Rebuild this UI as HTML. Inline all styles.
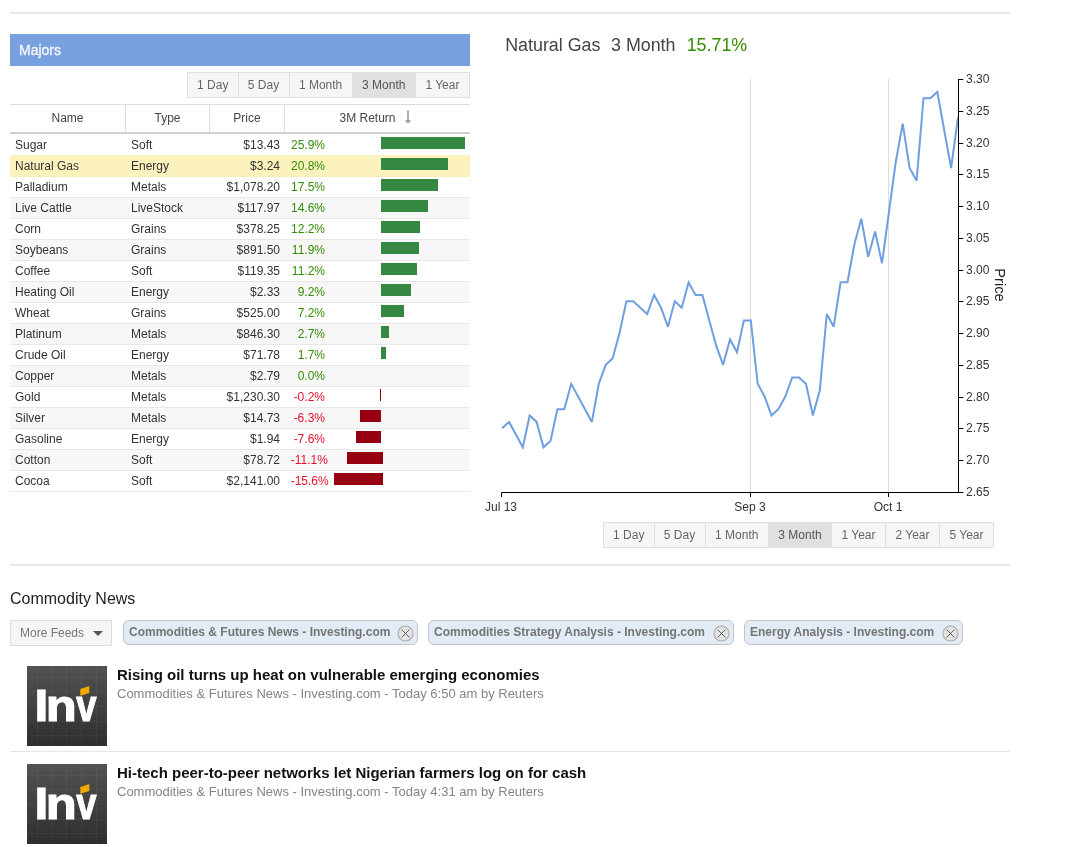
<!DOCTYPE html>
<html><head><meta charset="utf-8"><title>Commodities</title>
<style>
*{box-sizing:border-box}
html,body{margin:0;padding:0;background:#fff}
body{width:1078px;height:847px;position:relative;overflow:hidden;font-family:"Liberation Sans",Arial,sans-serif;font-size:12px;color:#333}
.hr{position:absolute;left:10px;width:1000px;height:2px;background:#e4e7eb}
.majors{position:absolute;left:10px;top:34px;width:460px;height:32px;background:#78a1e0;color:#fff;font-size:14px;line-height:32px;padding-left:9px;-webkit-text-stroke:0.35px #f4f6fb;color:#f4f6fb}
.btns{position:absolute;display:flex;height:26px;border:1px solid #e0e0e0;background:#f6f6f6}
.btns span{display:block;height:24px;line-height:24px;font-size:12px;color:#666;text-align:center;border-left:1px solid #e0e0e0}
.btns span:first-child{border-left:0}
.btns span.on{background:#e0e0e0;color:#555}
.thead{position:absolute;left:10px;top:104px;width:460px;height:30px;border-top:1px solid #ddd;border-bottom:2px solid #d0d0d0;display:flex}
.thead span{display:block;height:27px;line-height:27px;text-align:center;font-size:12px;color:#444;border-left:1px solid #ddd}
.thead span:first-child{border-left:0}
.tbody{position:absolute;left:10px;top:134px;width:460px}
.tr{position:relative;height:21px;line-height:20px;border-top:1px solid #e8e8e8;font-size:12px;color:#333;white-space:nowrap}
.tr:first-child{border-top-color:#fff}
.tr.alt{background:#f7f7f7}
.tr.sel{background:#fcf2bd;border-top-color:#fcf2bd}
.tr.sel + .tr{border-top-color:#f7edb9}
.tbody{border-bottom:1px solid #e8e8e8}
.tr span{position:absolute;top:0}
.c1{left:5px}.c2{left:121px}.c3{right:190px;text-align:right}.c4{left:280.7px;width:34.3px;text-align:right}
.pos{color:#358c05}.neg{color:#e8102e}
.bar{position:absolute;top:2px;height:12px;display:block}
.bar.g{background:#348842}.bar.r{background:#960010}
.ctitle{position:absolute;top:35.2px;font-size:17.85px;line-height:20px;color:#444;white-space:pre}
.ctitle b{font-weight:normal;color:#358c05}
svg text.ax{font-family:"Liberation Sans",Arial,sans-serif;font-size:12px;fill:#333}
svg text.ax2{font-family:"Liberation Sans",Arial,sans-serif;font-size:12px;fill:#333}
.h2{position:absolute;left:10px;top:589px;font-size:16px;line-height:20px;color:#222}
.more{position:absolute;left:10px;top:620px;width:102px;height:26px;border:1px solid #ddd;background:#f5f5f5;color:#777;font-size:12px;line-height:24px;padding-left:9px}
.more i{position:absolute;left:82px;top:10px;width:0;height:0;border-left:5px solid transparent;border-right:5px solid transparent;border-top:5px solid #555}
.tag{position:absolute;top:620px;height:25px;border:1px solid #c3c3c3;border-radius:6px;background:#e3ebf6;color:#757575;font-weight:bold;font-size:12px;line-height:22px;padding-left:5px;white-space:nowrap}
.tag svg{position:absolute;right:2.6px;top:3.7px}
.news{position:absolute;left:10px;width:1000px}
.news .logo{position:absolute;left:17px;top:0}
.news .t{position:absolute;left:107px;top:0px;font-size:15px;font-weight:bold;color:#111;line-height:18px;white-space:nowrap}
.news .s{position:absolute;left:107px;top:20px;font-size:13px;color:#848484;line-height:16px;white-space:nowrap}
.sep{position:absolute;left:10px;top:751px;width:1000px;height:1px;background:#e6e6e6}
</style></head><body>
<div class="hr" style="top:12px"></div>
<div class="majors">Majors</div>
<div class="btns" style="left:187px;top:72px;width:283px">
<span style="width:49.5px">1 Day</span><span style="width:51px">5 Day</span><span style="width:63.2px">1 Month</span><span class="on" style="width:63.2px">3 Month</span><span style="flex:1">1 Year</span>
</div>
<div class="thead"><span style="width:115px">Name</span><span style="width:84px">Type</span><span style="width:75px">Price</span><span style="width:186px;padding-right:2px">3M Return<svg width="8" height="14" viewBox="0 0 8 14" style="vertical-align:-2px;margin-left:8px;margin-right:2px"><path d="M4 0.4V11" fill="none" stroke="#999" stroke-width="1.6"/><path d="M0.9 10.2H7.1L4 13.4Z" fill="#999"/></svg></span></div>
<div class="tbody">
<div class="tr "><span class="c1">Sugar</span><span class="c2">Soft</span><span class="c3">$13.43</span><span class="c4 pos">25.9%</span><i class="bar g" style="left:371px;width:84px"></i></div>
<div class="tr sel"><span class="c1">Natural Gas</span><span class="c2">Energy</span><span class="c3">$3.24</span><span class="c4 pos">20.8%</span><i class="bar g" style="left:371px;width:67px"></i></div>
<div class="tr "><span class="c1">Palladium</span><span class="c2">Metals</span><span class="c3">$1,078.20</span><span class="c4 pos">17.5%</span><i class="bar g" style="left:371px;width:57px"></i></div>
<div class="tr alt"><span class="c1">Live Cattle</span><span class="c2">LiveStock</span><span class="c3">$117.97</span><span class="c4 pos">14.6%</span><i class="bar g" style="left:371px;width:47px"></i></div>
<div class="tr "><span class="c1">Corn</span><span class="c2">Grains</span><span class="c3">$378.25</span><span class="c4 pos">12.2%</span><i class="bar g" style="left:371px;width:39px"></i></div>
<div class="tr alt"><span class="c1">Soybeans</span><span class="c2">Grains</span><span class="c3">$891.50</span><span class="c4 pos">11.9%</span><i class="bar g" style="left:371px;width:38px"></i></div>
<div class="tr "><span class="c1">Coffee</span><span class="c2">Soft</span><span class="c3">$119.35</span><span class="c4 pos">11.2%</span><i class="bar g" style="left:371px;width:36px"></i></div>
<div class="tr alt"><span class="c1">Heating Oil</span><span class="c2">Energy</span><span class="c3">$2.33</span><span class="c4 pos">9.2%</span><i class="bar g" style="left:371px;width:30px"></i></div>
<div class="tr "><span class="c1">Wheat</span><span class="c2">Grains</span><span class="c3">$525.00</span><span class="c4 pos">7.2%</span><i class="bar g" style="left:371px;width:23px"></i></div>
<div class="tr alt"><span class="c1">Platinum</span><span class="c2">Metals</span><span class="c3">$846.30</span><span class="c4 pos">2.7%</span><i class="bar g" style="left:371px;width:8px"></i></div>
<div class="tr "><span class="c1">Crude Oil</span><span class="c2">Energy</span><span class="c3">$71.78</span><span class="c4 pos">1.7%</span><i class="bar g" style="left:371px;width:5px"></i></div>
<div class="tr alt"><span class="c1">Copper</span><span class="c2">Metals</span><span class="c3">$2.79</span><span class="c4 pos">0.0%</span></div>
<div class="tr "><span class="c1">Gold</span><span class="c2">Metals</span><span class="c3">$1,230.30</span><span class="c4 neg">-0.2%</span><i class="bar r" style="left:370px;width:1px"></i></div>
<div class="tr alt"><span class="c1">Silver</span><span class="c2">Metals</span><span class="c3">$14.73</span><span class="c4 neg">-6.3%</span><i class="bar r" style="left:350px;width:21px"></i></div>
<div class="tr "><span class="c1">Gasoline</span><span class="c2">Energy</span><span class="c3">$1.94</span><span class="c4 neg">-7.6%</span><i class="bar r" style="left:346px;width:25px"></i></div>
<div class="tr alt"><span class="c1">Cotton</span><span class="c2">Soft</span><span class="c3">$78.72</span><span class="c4 neg">-11.1%</span><i class="bar r" style="left:337px;width:36px"></i></div>
<div class="tr "><span class="c1">Cocoa</span><span class="c2">Soft</span><span class="c3">$2,141.00</span><span class="c4 neg">-15.6%</span><i class="bar r" style="left:324px;width:49px"></i></div>
</div>

<div class="ctitle" style="left:505.2px">Natural Gas</div><div class="ctitle" style="left:611px">3 Month</div><div class="ctitle" style="left:686.7px"><b>15.71%</b></div>
<svg width="1078" height="847" style="position:absolute;left:0;top:0;pointer-events:none">
<line x1="750.5" x2="750.5" y1="79" y2="492" stroke="#dcdcdc" stroke-width="1"/>
<line x1="888.5" x2="888.5" y1="79" y2="492" stroke="#dcdcdc" stroke-width="1"/>
<polyline fill="none" stroke="#6f9fe0" stroke-width="2" stroke-linejoin="miter" stroke-miterlimit="3" points="502.1,428.2 509.0,421.9 515.9,434.6 522.8,447.3 529.7,415.5 536.6,421.9 543.5,447.3 550.5,440.9 557.4,409.2 564.3,409.2 571.2,383.8 578.1,396.5 585.0,409.2 591.9,421.9 598.8,383.8 605.7,364.8 612.6,358.4 619.5,333.0 626.4,301.3 633.3,301.3 640.3,307.7 647.2,314.0 654.1,295.0 661.0,307.7 667.9,326.7 674.8,301.3 681.7,307.7 688.6,282.3 695.5,295.0 702.4,295.0 709.3,320.4 716.2,345.7 723.1,364.8 730.0,339.4 737.0,352.1 743.9,320.4 750.8,320.4 757.7,383.8 764.6,396.5 771.5,415.5 778.4,409.2 785.3,396.5 792.2,377.5 799.1,377.5 806.0,383.8 812.9,415.5 819.8,390.2 826.8,314.0 833.7,326.7 840.6,282.3 847.5,282.3 854.4,244.2 861.3,218.8 868.2,256.9 875.1,231.5 882.0,263.2 888.9,212.5 895.8,161.7 902.7,123.6 909.6,168.0 916.6,180.7 923.5,98.2 930.4,98.2 937.3,91.9 944.2,130.0 951.1,168.0 958.0,117.3"/>
<path d="M501.5,497V492.5H958.5" fill="none" stroke="#000" stroke-width="1"/>
<line x1="750.5" x2="750.5" y1="492" y2="497" stroke="#000"/>
<line x1="888.5" x2="888.5" y1="492" y2="497" stroke="#000"/>
<line x1="958.5" x2="958.5" y1="79" y2="493" stroke="#000" stroke-width="1"/>
<line x1="958.5" x2="963.3" y1="492.5" y2="492.5" stroke="#000" stroke-width="1"/><text x="966" y="496.1" class="ax">2.65</text>
<line x1="958.5" x2="963.3" y1="460.5" y2="460.5" stroke="#000" stroke-width="1"/><text x="966" y="464.1" class="ax">2.70</text>
<line x1="958.5" x2="963.3" y1="428.5" y2="428.5" stroke="#000" stroke-width="1"/><text x="966" y="432.1" class="ax">2.75</text>
<line x1="958.5" x2="963.3" y1="397.5" y2="397.5" stroke="#000" stroke-width="1"/><text x="966" y="401.1" class="ax">2.80</text>
<line x1="958.5" x2="963.3" y1="365.5" y2="365.5" stroke="#000" stroke-width="1"/><text x="966" y="369.1" class="ax">2.85</text>
<line x1="958.5" x2="963.3" y1="333.5" y2="333.5" stroke="#000" stroke-width="1"/><text x="966" y="337.1" class="ax">2.90</text>
<line x1="958.5" x2="963.3" y1="301.5" y2="301.5" stroke="#000" stroke-width="1"/><text x="966" y="305.1" class="ax">2.95</text>
<line x1="958.5" x2="963.3" y1="270.5" y2="270.5" stroke="#000" stroke-width="1"/><text x="966" y="274.1" class="ax">3.00</text>
<line x1="958.5" x2="963.3" y1="238.5" y2="238.5" stroke="#000" stroke-width="1"/><text x="966" y="242.1" class="ax">3.05</text>
<line x1="958.5" x2="963.3" y1="206.5" y2="206.5" stroke="#000" stroke-width="1"/><text x="966" y="210.1" class="ax">3.10</text>
<line x1="958.5" x2="963.3" y1="174.5" y2="174.5" stroke="#000" stroke-width="1"/><text x="966" y="178.1" class="ax">3.15</text>
<line x1="958.5" x2="963.3" y1="143.5" y2="143.5" stroke="#000" stroke-width="1"/><text x="966" y="147.1" class="ax">3.20</text>
<line x1="958.5" x2="963.3" y1="111.5" y2="111.5" stroke="#000" stroke-width="1"/><text x="966" y="115.1" class="ax">3.25</text>
<line x1="958.5" x2="963.3" y1="79.5" y2="79.5" stroke="#000" stroke-width="1"/><text x="966" y="83.1" class="ax">3.30</text>
<text x="501" y="511" class="ax2" text-anchor="middle">Jul 13</text>
<text x="750" y="511" class="ax2" text-anchor="middle">Sep 3</text>
<text x="888" y="511" class="ax2" text-anchor="middle">Oct 1</text>
<text transform="translate(995.2,285) rotate(90)" text-anchor="middle" style="font-family:'Liberation Sans',Arial,sans-serif;font-size:14.7px;fill:#222">Price</text>
</svg>
<div class="btns" style="left:603px;top:522px;width:391px">
<span style="width:49.5px">1 Day</span><span style="width:51px">5 Day</span><span style="width:63.5px">1 Month</span><span class="on" style="width:63px">3 Month</span><span style="width:54px">1 Year</span><span style="width:54px">2 Year</span><span style="flex:1">5 Year</span>
</div>
<div class="hr" style="top:564px"></div>
<div class="h2">Commodity News</div>
<div class="more">More Feeds<i></i></div>
<div class="tag" style="left:123px;width:295px">Commodities &amp; Futures News - Investing.com<svg width="17" height="17" viewBox="0 0 17 17"><circle cx="8.5" cy="8.5" r="7.5" fill="#e3e3e3" stroke="#acacac" stroke-width="1.1"/><path d="M4.6 4.6L12.4 12.4M12.4 4.6L4.6 12.4" stroke="#555" stroke-width="0.9" fill="none"/></svg></div>
<div class="tag" style="left:428px;width:306px">Commodities Strategy Analysis - Investing.com<svg width="17" height="17" viewBox="0 0 17 17"><circle cx="8.5" cy="8.5" r="7.5" fill="#e3e3e3" stroke="#acacac" stroke-width="1.1"/><path d="M4.6 4.6L12.4 12.4M12.4 4.6L4.6 12.4" stroke="#555" stroke-width="0.9" fill="none"/></svg></div>
<div class="tag" style="left:744px;width:219px">Energy Analysis - Investing.com<svg width="17" height="17" viewBox="0 0 17 17"><circle cx="8.5" cy="8.5" r="7.5" fill="#e3e3e3" stroke="#acacac" stroke-width="1.1"/><path d="M4.6 4.6L12.4 12.4M12.4 4.6L4.6 12.4" stroke="#555" stroke-width="0.9" fill="none"/></svg></div>
<div class="news" style="top:666px"><svg class="logo" width="80" height="80" viewBox="0 0 80 80"><defs><linearGradient id="g0" x1="0" y1="0" x2="0" y2="1"><stop offset="0" stop-color="#525252"/><stop offset="1" stop-color="#2e2e2e"/></linearGradient></defs><rect width="80" height="80" fill="url(#g0)"/><g stroke="#fff" stroke-opacity="0.045" stroke-width="1"><path d="M10.5 0V80M25.5 0V80M39.5 0V80M54.5 0V80M69.5 0V80M0 11.5H80M0 25.5H80M0 40.5H80M0 55.5H80M0 69.5H80"/></g><g style="font-family:'Liberation Sans',Arial,sans-serif;font-weight:bold;font-size:44.5px;fill:#fff;stroke:#fff;stroke-width:1.1"><text transform="translate(7.5,54.9) scale(1.12,1)">I</text><text transform="translate(18.7,54.9) scale(1.14,1)">n</text><text transform="translate(49.3,54.9) scale(0.82,1)">v</text></g><polygon points="53.3,22.9 62.3,20 62.3,26.9 53.3,29.7" fill="#f2a900"/></svg><div class="t">Rising oil turns up heat on vulnerable emerging economies</div><div class="s">Commodities &amp; Futures News - Investing.com - Today 6:50 am by Reuters</div></div>
<div class="news" style="top:764px"><svg class="logo" width="80" height="80" viewBox="0 0 80 80"><defs><linearGradient id="g1" x1="0" y1="0" x2="0" y2="1"><stop offset="0" stop-color="#525252"/><stop offset="1" stop-color="#2e2e2e"/></linearGradient></defs><rect width="80" height="80" fill="url(#g1)"/><g stroke="#fff" stroke-opacity="0.045" stroke-width="1"><path d="M10.5 0V80M25.5 0V80M39.5 0V80M54.5 0V80M69.5 0V80M0 11.5H80M0 25.5H80M0 40.5H80M0 55.5H80M0 69.5H80"/></g><g style="font-family:'Liberation Sans',Arial,sans-serif;font-weight:bold;font-size:44.5px;fill:#fff;stroke:#fff;stroke-width:1.1"><text transform="translate(7.5,54.9) scale(1.12,1)">I</text><text transform="translate(18.7,54.9) scale(1.14,1)">n</text><text transform="translate(49.3,54.9) scale(0.82,1)">v</text></g><polygon points="53.3,22.9 62.3,20 62.3,26.9 53.3,29.7" fill="#f2a900"/></svg><div class="t">Hi-tech peer-to-peer networks let Nigerian farmers log on for cash</div><div class="s">Commodities &amp; Futures News - Investing.com - Today 4:31 am by Reuters</div></div>
<div class="sep"></div>
</body></html>
